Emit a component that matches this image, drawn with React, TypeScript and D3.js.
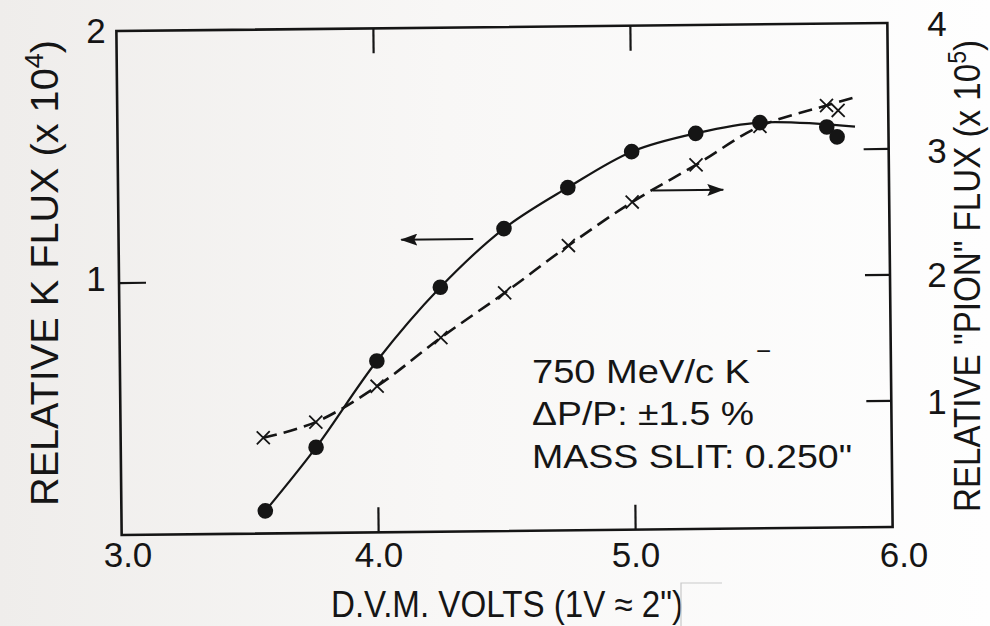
import React from "react";
import * as d3 from "d3";

// K flux points (left axis, x 10^4)
const kVolts = [3.56, 3.76, 4.0, 4.25, 4.5, 4.75, 5.0, 5.25, 5.5, 5.76, 5.8];
const kFlux = [0.09, 0.34, 0.68, 0.97, 1.2, 1.36, 1.5, 1.57, 1.61, 1.59, 1.55];

// "pion" flux points (right axis, x 10^5)
const pionVolts = [3.555, 3.76, 4.0, 4.25, 4.5, 4.75, 5.0, 5.25, 5.5, 5.76, 5.805];
const pionFlux = [0.76, 0.88, 1.16, 1.54, 1.89, 2.26, 2.6, 2.89, 3.19, 3.35, 3.31];

// hand drawn curves through the points
const kCurveVolts = [3.56, 3.76, 4.0, 4.25, 4.5, 4.75, 5.0, 5.25, 5.5, 5.87];
const kCurveFlux = [0.09, 0.34, 0.68, 0.97, 1.2, 1.36, 1.5, 1.57, 1.61, 1.59];
const pionCurveVolts = [3.555, 3.76, 4.0, 4.25, 4.5, 4.75, 5.0, 5.25, 5.5, 5.76, 5.865];
const pionCurveFlux = [0.76, 0.88, 1.16, 1.54, 1.89, 2.26, 2.6, 2.89, 3.19, 3.35, 3.41];

const xTicks = [3.0, 4.0, 5.0, 6.0];
const xTickLabels = ["3.0", "4.0", "5.0", "6.0"];
const leftTicks = [1, 2];
const rightTicks = [1, 2, 3, 4];

const font = "'Liberation Sans', Arial, sans-serif";
const ink = "#151515";

export default function App() {
  const margin = { top: 27, right: 100, bottom: 95, left: 119 };
  const W = 990, H = 626;
  const x0 = margin.left, x1 = W - margin.right, y0 = margin.top, y1 = H - margin.bottom;

  const x = d3.scaleLinear().domain([3, 6]).range([x0, x1]);
  const yL = d3.scaleLinear().domain([0, 2]).range([y1, y0]);
  const yR = d3.scaleLinear().domain([0, 4]).range([y1, y0]);

  const kLine = d3.line<number>()
    .x((d, i) => x(kCurveVolts[i]))
    .y(d => yL(d))
    .curve(d3.curveCatmullRom.alpha(0.5));
  const pionLine = d3.line<number>()
    .x((d, i) => x(pionCurveVolts[i]))
    .y(d => yR(d))
    .curve(d3.curveCatmullRom.alpha(0.5));

  const cx = (x0 + x1) / 2, cy = (y0 + y1) / 2;
  const tick = 25;

  return (
    <svg width={W} height={H} style={{ position: "absolute", left: 0, top: 0 }}
      fontFamily={font} fill={ink}>
      <defs>
        <linearGradient id="paper" x1="0" x2="1" y1="0" y2="0">
          <stop offset="0" stopColor="#efedeb" />
          <stop offset="0.45" stopColor="#f8f7f6" />
          <stop offset="1" stopColor="#fefefe" />
        </linearGradient>
        <marker id="arrow" viewBox="0 0 17 12" refX="16" refY="6" markerWidth="17" markerHeight="12"
          markerUnits="userSpaceOnUse" orient="auto">
          <path d="M0,0 L17,6 L0,12 L3,6 Z" fill={ink} />
        </marker>
      </defs>
      <rect width={W} height={H} fill="url(#paper)" />

      <g transform={`rotate(-0.6 ${cx} ${cy})`}>
        {/* frame */}
        <rect x={x0} y={y0} width={x1 - x0} height={y1 - y0} fill="none" stroke={ink} strokeWidth={2.6} />

        {/* inner ticks */}
        {xTicks.slice(1, 3).map(v => (
          <g key={"xt" + v} stroke={ink} strokeWidth={2.2}>
            <line x1={x(v)} x2={x(v)} y1={y1} y2={y1 - tick} />
            <line x1={x(v)} x2={x(v)} y1={y0} y2={y0 + tick} />
          </g>
        ))}
        {leftTicks.slice(0, 1).map(v => (
          <line key={"lt" + v} x1={x0} x2={x0 + tick + 2} y1={yL(v)} y2={yL(v)} stroke={ink} strokeWidth={2.2} />
        ))}
        {rightTicks.slice(0, 3).map(v => (
          <line key={"rt" + v} x1={x1} x2={x1 - tick} y1={yR(v)} y2={yR(v)} stroke={ink} strokeWidth={2.2} />
        ))}

        {/* curves */}
        <path d={kLine(kCurveFlux) || ""} fill="none" stroke={ink} strokeWidth={2.2} />
        <path d={pionLine(pionCurveFlux) || ""} fill="none" stroke={ink} strokeWidth={2.6}
          strokeDasharray="14 7" />

        {/* points */}
        {kFlux.map((v, i) => (
          <circle key={"k" + i} cx={x(kVolts[i])} cy={yL(v)} r={7.8} fill={ink} />
        ))}
        {pionFlux.map((v, i) => {
          const px = x(pionVolts[i]), py = yR(v), s = 6.5;
          return (
            <path key={"p" + i} d={`M${px - s},${py - s}L${px + s},${py + s}M${px - s},${py + s}L${px + s},${py - s}`}
              stroke={ink} strokeWidth={1.8} fill="none" />
          );
        })}

        {/* arrows pointing to the axes */}
        <line x1={x(4.38)} x2={x(4.1)} y1={yL(1.16)} y2={yL(1.16)} stroke={ink} strokeWidth={2.2}
          markerEnd="url(#arrow)" />
        <line x1={x(5.08)} x2={x(5.355)} y1={yR(2.69)} y2={yR(2.69)} stroke={ink} strokeWidth={2.2}
          markerEnd="url(#arrow)" />
      </g>

      {/* tick labels */}
      {xTicks.map((v, i) => (
        <text key={"xl" + v} x={x(v) + (i === 0 ? 9 : i === 3 ? 14 : 3)} y={567} fontSize={35} textAnchor="middle">
          {xTickLabels[i]}
        </text>
      ))}
      {leftTicks.map(v => (
        <text key={"ll" + v} x={96} y={yL(v) + (v === 2 ? 16 : 12)} fontSize={35} textAnchor="middle">{v}</text>
      ))}
      {rightTicks.map(v => (
        <text key={"rl" + v} x={937} y={yR(v) + (v === 4 ? 9 : 11) - (4 - v) * 1.5 + (v === 1 ? 2 : 0)} fontSize={35}
          textAnchor="middle">{v}</text>
      ))}

      {/* axis titles */}
      <text transform="translate(58,506) rotate(-90)" fontSize={38} textLength={466} lengthAdjust="spacingAndGlyphs">
        RELATIVE K FLUX (x 10<tspan dy={-15} fontSize={26}>4</tspan><tspan dy={15}>)</tspan>
      </text>
      <text transform="translate(980,512) rotate(-90)" fontSize={36} textLength={472} lengthAdjust="spacingAndGlyphs">
        RELATIVE "PION" FLUX (x 10<tspan dy={-14} fontSize={25}>5</tspan><tspan dy={14}>)</tspan>
      </text>
      <text x={331} y={617} fontSize={36} textLength={352} lengthAdjust="spacingAndGlyphs">
        D.V.M.  VOLTS  (1V ≈ 2")
      </text>
      <path d="M681,626 V583 H722" fill="none" stroke="#c9c9c9" strokeWidth={1.2} />

      {/* run conditions */}
      <g fontSize={34}>
        <text x={532} y={383} textLength={218} lengthAdjust="spacingAndGlyphs">750 MeV/c  K</text>
        <text x={756} y={360} fontSize={26}>−</text>
        <text x={532} y={425} textLength={222} lengthAdjust="spacingAndGlyphs">ΔP/P:  ±1.5 %</text>
        <text x={532} y={468} textLength={320} lengthAdjust="spacingAndGlyphs">MASS  SLIT:  0.250"</text>
      </g>
    </svg>
  );
}
